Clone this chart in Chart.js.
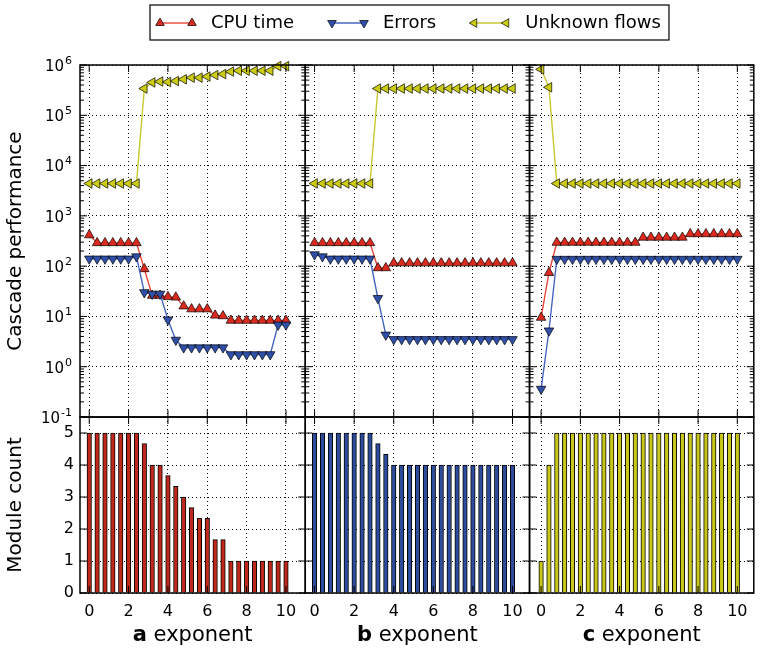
<!DOCTYPE html>
<html>
<head>
<meta charset="utf-8">
<script src="https://cdn.jsdelivr.net/npm/chart.js@4.4.1/dist/chart.umd.min.js"></script>
<style>
  html, body { margin: 0; padding: 0; background: #fff; }
  #wrap { width: 760px; height: 650px; }
</style>
</head>
<body>
<div id="wrap"><canvas id="cascade" width="760" height="650"></canvas></div>
<script>
// parameter values along the x axis (same in every panel)
const exponent = [0, 0.4, 0.8, 1.2, 1.6, 2, 2.4, 2.8, 3.2, 3.6, 4, 4.4, 4.8, 5.2, 5.6, 6, 6.4, 6.8, 7.2, 7.6, 8, 8.4, 8.8, 9.2, 9.6, 10];
const xTicks = [0, 2, 4, 6, 8, 10];
const perfTicks = [0.1, 1, 10, 100, 1000, 10000, 100000, 1000000];
const countTicks = [0, 1, 2, 3, 4, 5];
const panelLetters = ['a', 'b', 'c'];
const seriesNames = ['CPU time', 'Errors', 'Unknown flows'];

// panel a
const cpuA = [415, 290, 290, 290, 290, 290, 290, 88, 26, 26, 24.5, 24, 16, 14, 14, 14, 10.5, 10.2, 8.3, 8.3, 8.3, 8.3, 8.3, 8.3, 8.3, 8.3];
const errA = [140, 140, 140, 140, 140, 140, 155, 30, 28, 28, 8.6, 3.4, 2.4, 2.4, 2.4, 2.4, 2.4, 2.4, 1.75, 1.75, 1.75, 1.75, 1.75, 1.75, 6.8, 6.8];
const unkA = [4400, 4400, 4400, 4400, 4400, 4400, 4400, 340000, 450000, 470000, 460000, 480000, 520000, 560000, 560000, 590000, 630000, 660000, 740000, 770000, 770000, 770000, 770000, 770000, 950000, 950000];
const modA = [5, 5, 5, 5, 5, 5, 5, 4.67, 4, 4, 3.67, 3.33, 3, 2.67, 2.33, 2.33, 1.67, 1.67, 1, 1, 1, 1, 1, 1, 1, 1];

// panel b
const cpuB = [290, 290, 290, 290, 290, 290, 290, 290, 92, 92, 115, 115, 115, 115, 115, 115, 115, 115, 115, 115, 115, 115, 115, 115, 115, 115];
const errB = [170, 155, 140, 140, 140, 140, 140, 140, 23, 4.3, 3.5, 3.5, 3.5, 3.5, 3.5, 3.5, 3.5, 3.5, 3.5, 3.5, 3.5, 3.5, 3.5, 3.5, 3.5, 3.5];
const unkB = [4400, 4400, 4400, 4400, 4400, 4400, 4400, 4400, 340000, 340000, 340000, 340000, 340000, 340000, 340000, 340000, 340000, 340000, 340000, 340000, 340000, 340000, 340000, 340000, 340000, 340000];
const modB = [5, 5, 5, 5, 5, 5, 5, 5, 4.67, 4.33, 4, 4, 4, 4, 4, 4, 4, 4, 4, 4, 4, 4, 4, 4, 4, 4];

// panel c
const cpuC = [9.5, 74, 295, 295, 295, 295, 295, 295, 295, 295, 295, 295, 295, 372, 372, 372, 372, 372, 372, 437, 437, 437, 437, 437, 437, 437];
const errC = [0.36, 5.2, 138, 138, 138, 138, 138, 138, 138, 138, 138, 138, 138, 138, 138, 138, 138, 138, 138, 138, 138, 138, 138, 138, 138, 138];
const unkC = [820000, 360000, 4400, 4400, 4400, 4400, 4400, 4400, 4400, 4400, 4400, 4400, 4400, 4400, 4400, 4400, 4400, 4400, 4400, 4400, 4400, 4400, 4400, 4400, 4400, 4400];
const modC = [1, 4, 5, 5, 5, 5, 5, 5, 5, 5, 5, 5, 5, 5, 5, 5, 5, 5, 5, 5, 5, 5, 5, 5, 5, 5];

const FONT = "'DejaVu Sans', sans-serif";
Chart.defaults.font.family = FONT;
Chart.defaults.color = '#000';

const styles = [
  { line: '#e8473c', fill: '#dd2a1f', rot: 0, bar: '#c0281c' },
  { line: '#4766c0', fill: '#2f4fa8', rot: 180, bar: '#2e4c9e' },
  { line: '#c8c830', fill: '#cccc14', rot: 270, bar: '#c8c818' }
];

const pts = arr => exponent.map((x, i) => ({ x, y: arr[i] }));

function lineSet(arr, s, xAxisID, order) {
  return {
    type: 'line', data: pts(arr), xAxisID, yAxisID: 'yTop', order,
    borderColor: s.line, borderWidth: 1.4, tension: 0,
    pointStyle: 'triangle', pointRotation: s.rot, pointRadius: 5.5,
    pointBackgroundColor: s.fill, pointBorderColor: '#000', pointBorderWidth: 0.7,
    clip: false
  };
}

function barSet(arr, s, xAxisID) {
  return {
    type: 'bar', data: pts(arr), xAxisID, yAxisID: 'yBot', order: 0,
    backgroundColor: s.bar, borderColor: '#000', borderWidth: 1,
    barThickness: 4.5, grouped: false
  };
}

const panels = [[cpuA, errA, unkA, modA], [cpuB, errB, unkB, modB], [cpuC, errC, unkC, modC]];
const axisIds = ['xa', 'xb', 'xc'];
const datasets = [];
panels.forEach((p, k) => {
  datasets.push(lineSet(p[0], styles[0], axisIds[k], 3));
  datasets.push(lineSet(p[1], styles[1], axisIds[k], 2));
  datasets.push(lineSet(p[2], styles[2], axisIds[k], 1));
  datasets.push(barSet(p[3], styles[k], axisIds[k]));
});

const dotted = { display: false, dash: [1, 3] };
const gridStyle = { color: '#000', lineWidth: 1, drawTicks: false, offset: false };

function xScale(min, max, weight) {
  return {
    type: 'linear', position: 'bottom', stack: 'cols', stackWeight: weight,
    min, max, offset: false,
    afterBuildTicks: s => { s.ticks = xTicks.map(v => ({ value: v })); },
    afterFit: s => { s.height = 57; s.paddingLeft = 0; s.paddingRight = 0; },
    grid: gridStyle, border: dotted,
    ticks: { font: { size: 16 }, padding: 9, autoSkip: false, maxRotation: 0 }
  };
}

const frame = {
  id: 'frame',
  afterDatasetsDraw(chart) {
    const { ctx, scales } = chart;
    const cols = axisIds.map(id => scales[id]);
    const rows = [scales.yTop, scales.yBot];
    ctx.save();
    ctx.strokeStyle = '#000';
    cols.forEach(xs => {
      rows.forEach(ys => {
        ctx.lineWidth = 1;
        ctx.beginPath();
        xs.ticks.forEach(t => {
          const px = xs.getPixelForValue(t.value);
          ctx.moveTo(px, ys.bottom); ctx.lineTo(px, ys.bottom - 7);
          ctx.moveTo(px, ys.top); ctx.lineTo(px, ys.top + 7);
        });
        ys.ticks.forEach(t => {
          const py = ys.getPixelForValue(t.value);
          ctx.moveTo(xs.left, py); ctx.lineTo(xs.left + 7, py);
          ctx.moveTo(xs.right, py); ctx.lineTo(xs.right - 7, py);
        });
        if (ys.type === 'logarithmic') {
          ys.ticks.forEach(t => {
            for (let k = 2; k < 10; k++) {
              const v = t.value * k;
              if (v > ys.max) break;
              const py = ys.getPixelForValue(v);
              ctx.moveTo(xs.left, py); ctx.lineTo(xs.left + 4, py);
              ctx.moveTo(xs.right, py); ctx.lineTo(xs.right - 4, py);
            }
          });
        }
        ctx.stroke();
        ctx.lineWidth = 1.5;
        ctx.strokeRect(xs.left, ys.top, xs.right - xs.left, ys.bottom - ys.top);
      });
    });
    ctx.restore();
  },
  afterDraw(chart) {
    const { ctx, scales } = chart;
    ctx.save();
    ctx.fillStyle = '#000';
    ctx.textBaseline = 'middle';

    // log tick labels 10^n
    const ys = scales.yTop;
    ys.ticks.forEach(t => {
      const py = ys.getPixelForValue(t.value);
      const e = String(Math.round(Math.log10(t.value)));
      const xr = ys.right - 8;
      ctx.textAlign = 'right';
      ctx.font = '11px ' + FONT;
      const ew = ctx.measureText(e).width;
      ctx.fillText(e, xr, py - 4);
      ctx.font = '15px ' + FONT;
      ctx.fillText('10', xr - ew - 1, py + 2);
    });

    // x titles: bold letter + "exponent"
    ctx.textAlign = 'left';
    axisIds.forEach((id, k) => {
      const xs = scales[id];
      ctx.font = 'bold 21px ' + FONT;
      const lw = ctx.measureText(panelLetters[k]).width;
      ctx.font = '21px ' + FONT;
      const rw = ctx.measureText(' exponent').width;
      const x0 = (xs.left + xs.right) / 2 - (lw + rw) / 2;
      ctx.font = 'bold 21px ' + FONT;
      ctx.fillText(panelLetters[k], x0, 636);
      ctx.font = '21px ' + FONT;
      ctx.fillText(' exponent', x0 + lw, 636);
    });

    // legend: line with a marker at each end, then the label
    ctx.font = '18px ' + FONT;
    const ly = 23;
    let x = 160;
    seriesNames.forEach((name, i) => {
      const s = styles[i];
      ctx.strokeStyle = s.line;
      ctx.lineWidth = 1.4;
      ctx.beginPath(); ctx.moveTo(x, ly); ctx.lineTo(x + 32, ly); ctx.stroke();
      [x, x + 32].forEach(mx => {
        ctx.fillStyle = s.fill;
        ctx.strokeStyle = '#000';
        ctx.lineWidth = 0.7;
        Chart.helpers.drawPoint(ctx, { pointStyle: 'triangle', rotation: s.rot, radius: 5, borderWidth: 0.7 }, mx, ly);
      });
      ctx.fillStyle = '#000';
      ctx.fillText(name, x + 51, ly);
      x = x + 51 + ctx.measureText(name).width + 38;
    });
    const boxRight = x - 38 + 8;
    ctx.strokeStyle = '#000';
    ctx.lineWidth = 1.2;
    ctx.strokeRect(150, 5, boxRight - 150, 35);
    ctx.restore();
  }
};

new Chart(document.getElementById('cascade'), {
  type: 'line',
  data: { datasets },
  options: {
    responsive: false,
    animation: false,
    events: [],
    layout: { padding: { top: 65, right: 1, left: 0, bottom: 0 } },
    plugins: { legend: { display: false }, tooltip: { enabled: false } },
    scales: {
      xa: xScale(-0.47, 10.98, 227),
      xb: xScale(-0.47, 10.86, 226),
      xc: xScale(-0.59, 10.84, 226),
      yTop: {
        type: 'logarithmic', position: 'left', stack: 'rows', stackWeight: 2, weight: 1,
        min: 0.1, max: 1000000,
        afterBuildTicks: s => { s.ticks = perfTicks.map(v => ({ value: v })); },
        afterFit: s => { s.width = 80; },
        grid: gridStyle, border: dotted,
        ticks: { display: false },
        title: { display: true, text: 'Cascade performance', font: { size: 20 }, padding: { top: 4, bottom: 0 } }
      },
      yBot: {
        type: 'linear', position: 'left', stack: 'rows', stackWeight: 1, weight: 0,
        min: 0, max: 5.5,
        afterBuildTicks: s => { s.ticks = countTicks.map(v => ({ value: v })); },
        afterFit: s => { s.width = 80; },
        grid: gridStyle, border: dotted,
        ticks: { font: { size: 16 }, padding: 6, autoSkip: false },
        title: { display: true, text: 'Module count', font: { size: 20 }, padding: { top: 4, bottom: 0 } }
      }
    }
  },
  plugins: [frame]
});
</script>
</body>
</html>
